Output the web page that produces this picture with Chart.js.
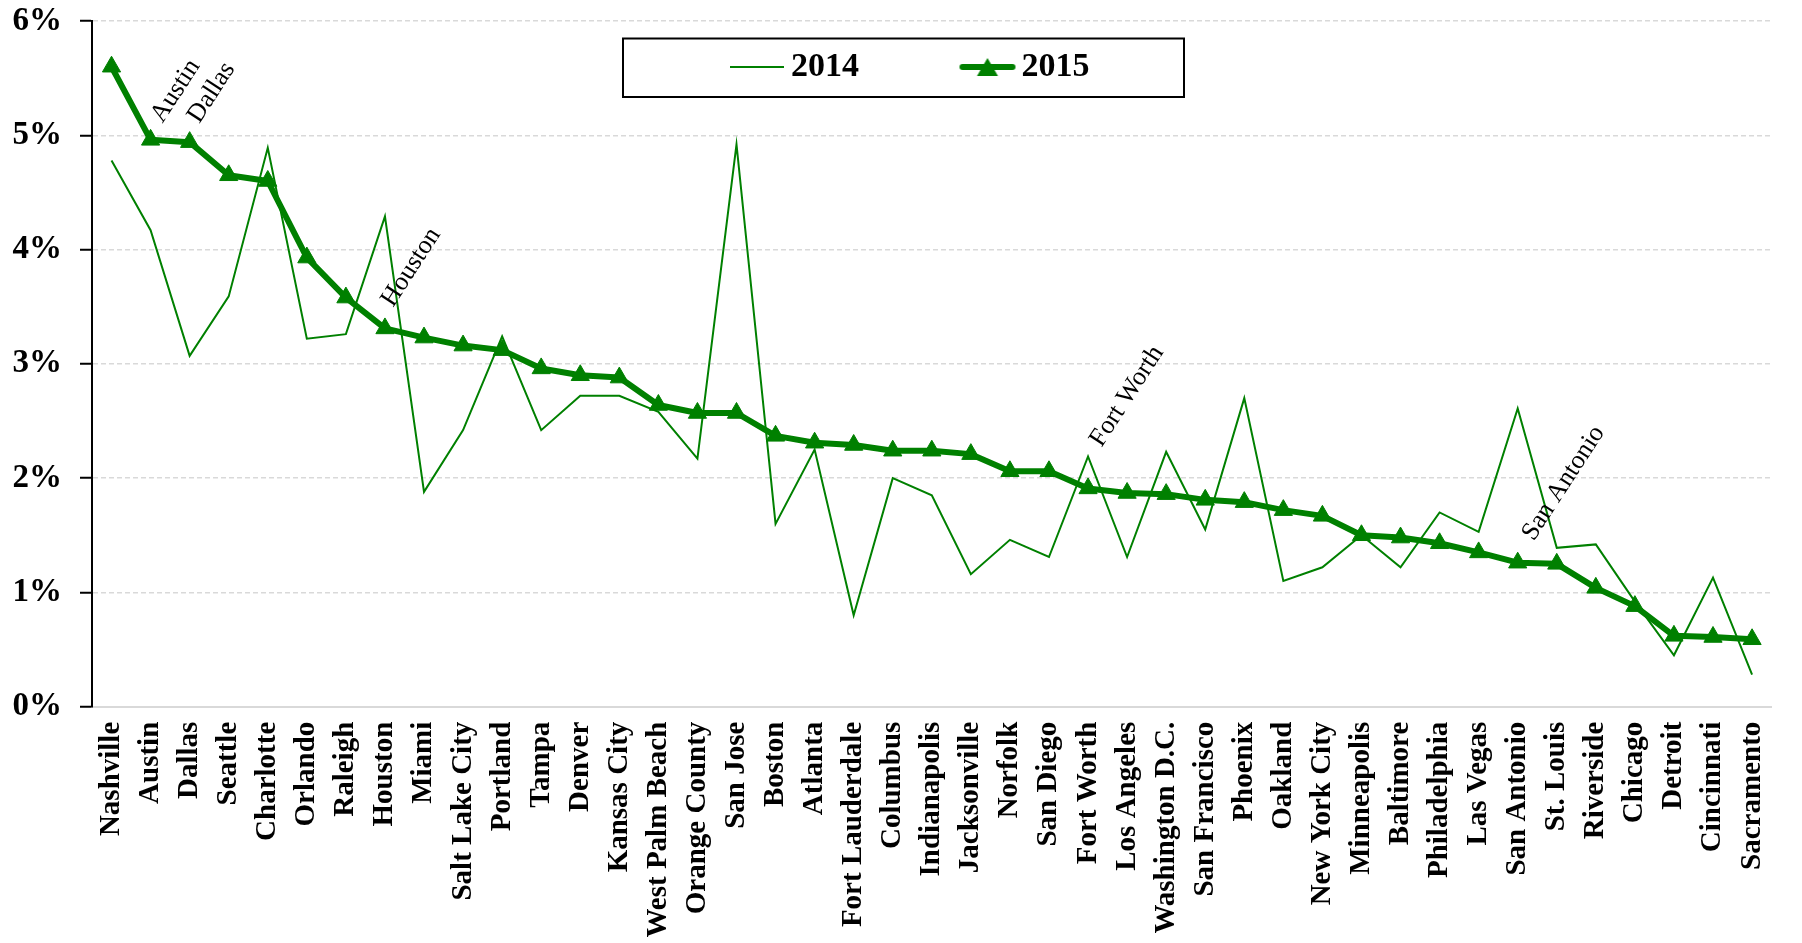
<!DOCTYPE html>
<html>
<head>
<meta charset="utf-8">
<script src="https://cdn.jsdelivr.net/npm/chart.js@4.4.1/dist/chart.umd.min.js"></script>
<style>
  html, body { margin: 0; padding: 0; background: #ffffff; }
  #wrap { width: 1802px; height: 943px; }
</style>
</head>
<body>
<div id="wrap"><canvas id="chart" width="1802" height="943"></canvas></div>
<script>
// ---------------- data ----------------
const cities = ['Nashville','Austin','Dallas','Seattle','Charlotte','Orlando','Raleigh','Houston','Miami',
  'Salt Lake City','Portland','Tampa','Denver','Kansas City','West Palm Beach','Orange County','San Jose',
  'Boston','Atlanta','Fort Lauderdale','Columbus','Indianapolis','Jacksonville','Norfolk','San Diego',
  'Fort Worth','Los Angeles','Washington D.C.','San Francisco','Phoenix','Oakland','New York City',
  'Minneapolis','Baltimore','Philadelphia','Las Vegas','San Antonio','St. Louis','Riverside','Chicago',
  'Detroit','Cincinnati','Sacramento'];

const growth2014 = [4.78, 4.17, 3.07, 3.59, 4.89, 3.22, 3.26, 4.29, 1.88, 2.42,
  3.24, 2.42, 2.72, 2.72, 2.58, 2.17, 4.92, 1.60, 2.25, 0.80,
  2.00, 1.85, 1.16, 1.46, 1.31, 2.19, 1.31, 2.23, 1.55, 2.70,
  1.10, 1.22, 1.50, 1.22, 1.70, 1.53, 2.61, 1.39, 1.42, 0.92,
  0.45, 1.13, 0.28];

const growth2015 = [5.60, 4.96, 4.94, 4.65, 4.60, 3.93, 3.58, 3.31, 3.23, 3.16,
  3.12, 2.96, 2.90, 2.88, 2.64, 2.57, 2.57, 2.37, 2.31, 2.29,
  2.24, 2.24, 2.21, 2.06, 2.06, 1.91, 1.87, 1.86, 1.81, 1.79,
  1.72, 1.67, 1.50, 1.48, 1.43, 1.35, 1.26, 1.25, 1.04, 0.88,
  0.62, 0.61, 0.59];

const seriesNames = ['2014', '2015'];
const yTickLabels = ['0%', '1%', '2%', '3%', '4%', '5%', '6%'];
const notedCities = ['Austin', 'Dallas', 'Houston', 'Fort Worth', 'San Antonio'];

// ---------------- style ----------------
const GREEN = '#008000';
const FONT = '"Liberation Serif", "Times New Roman", serif';
const noteOffsets = { 'Austin': [12, -16], 'Dallas': [9.5, -18], 'Houston': [8, -20.5],
                      'Fort Worth': [13.5, -40.5], 'San Antonio': [16, -21] };

function legendGlyph(thick) {
  const c = document.createElement('canvas');
  if (!thick) {
    c.width = 56; c.height = 4;
    const g = c.getContext('2d');
    g.strokeStyle = GREEN; g.lineWidth = 2;
    g.beginPath(); g.moveTo(1, 2); g.lineTo(55, 2); g.stroke();
  } else {
    c.width = 58; c.height = 24;
    const g = c.getContext('2d');
    g.strokeStyle = GREEN; g.lineWidth = 6; g.lineCap = 'round';
    g.beginPath(); g.moveTo(4, 12); g.lineTo(54, 12); g.stroke();
    g.fillStyle = GREEN;
    g.beginPath(); g.moveTo(29, 3); g.lineTo(39.5, 21); g.lineTo(18.5, 21); g.closePath(); g.fill();
  }
  return c;
}
const legendGlyphs = [legendGlyph(false), legendGlyph(true)];

// place legend inside the plot (no layout space), draw its frame
const LEGEND_FIRST_X = 740, LEGEND_TEXT_Y = 67;
const legendPlacer = {
  id: 'legendPlacer',
  beforeLayout(chart) {
    const lg = chart.legend;
    if (lg && !lg._noSpace) {
      const origFit = lg.fit.bind(lg);
      lg.fit = function () { origFit(); this.height = 0; };
      lg._noSpace = true;
    }
  },
  beforeDraw(chart) {
    const lg = chart.legend;
    if (!lg) return;
    const pad = lg.options.labels.padding;
    const fs = lg.options.labels.font.size;
    lg.left = LEGEND_FIRST_X - pad;
    lg.top = LEGEND_TEXT_Y - fs / 2 - pad;
    lg.right = 1500;
    lg.bottom = 300;
    lg.width = lg.right - lg.left;
    lg.height = lg.bottom - lg.top;
  },
  afterDraw(chart) {
    const ctx = chart.ctx;
    ctx.save();
    ctx.strokeStyle = '#000';
    ctx.lineWidth = 2;
    ctx.strokeRect(623, 38.5, 561, 58.5);
    ctx.restore();
  }
};

const cityNotes = {
  id: 'cityNotes',
  afterDatasetsDraw(chart) {
    const { ctx, scales: { x, y } } = chart;
    ctx.save();
    ctx.font = '26px ' + FONT;
    ctx.fillStyle = '#000';
    ctx.textAlign = 'left';
    ctx.textBaseline = 'alphabetic';
    notedCities.forEach(name => {
      const i = cities.indexOf(name);
      const off = noteOffsets[name];
      const px = x.getPixelForValue(i) + off[0];
      const py = y.getPixelForValue(growth2015[i]) + off[1];
      ctx.save();
      ctx.translate(px, py);
      ctx.rotate(-57 * Math.PI / 180);
      ctx.fillText(name, 0, 0);
      ctx.restore();
    });
    ctx.restore();
  }
};

new Chart(document.getElementById('chart'), {
  type: 'line',
  data: {
    labels: cities,
    datasets: [
      {
        label: seriesNames[0], data: growth2014,
        borderColor: GREEN, backgroundColor: GREEN, borderWidth: 2,
        pointRadius: 0, pointHoverRadius: 0, fill: false, tension: 0
      },
      {
        label: seriesNames[1], data: growth2015,
        borderColor: GREEN, backgroundColor: GREEN, borderWidth: 6,
        borderJoinStyle: 'round', borderCapStyle: 'round',
        pointStyle: 'triangle', pointRadius: 10.5, pointHoverRadius: 10.5,
        pointBackgroundColor: GREEN, pointBorderColor: GREEN, pointBorderWidth: 1,
        fill: false, tension: 0
      }
    ]
  },
  options: {
    responsive: false,
    animation: false,
    events: [],
    layout: { padding: { top: 21, right: 10, left: 0, bottom: 0 } },
    plugins: {
      tooltip: { enabled: false },
      legend: {
        display: true,
        position: 'top',
        align: 'start',
        labels: {
          usePointStyle: true,
          pointStyleWidth: 34,
          padding: 111.5,
          color: '#000',
          font: { family: FONT, size: 34, weight: 'bold' },
          generateLabels(chart) {
            const items = Chart.defaults.plugins.legend.labels.generateLabels(chart);
            items.forEach((it, i) => { it.pointStyle = legendGlyphs[i]; });
            return items;
          }
        }
      }
    },
    scales: {
      x: {
        type: 'category',
        offset: true,
        grid: { display: false, drawTicks: false },
        border: { display: true, color: '#d9d9d9', width: 2 },
        ticks: {
          autoSkip: false, maxRotation: 90, minRotation: 90, padding: 15,
          color: '#000', font: { family: FONT, size: 29, weight: 'bold' }
        },
        afterFit(scale) { scale.height = 236.3; }
      },
      y: {
        min: 0, max: 6,
        ticks: {
          stepSize: 1, padding: 18, color: '#000',
          font: { family: FONT, size: 33, weight: 'bold' },
          callback: (v) => yTickLabels[v]
        },
        grid: {
          color: '#d9d9d9', lineWidth: 1.5, drawTicks: true, tickLength: 12,
          tickColor: '#000', tickWidth: 2, tickBorderDash: [100, 0]
        },
        border: { display: true, color: '#000', width: 2, dash: [5, 3] },
        afterFit(scale) { scale.width = 92; scale.paddingTop = 0; scale.paddingBottom = 0; }
      }
    }
  },
  plugins: [legendPlacer, cityNotes]
});
</script>
</body>
</html>
